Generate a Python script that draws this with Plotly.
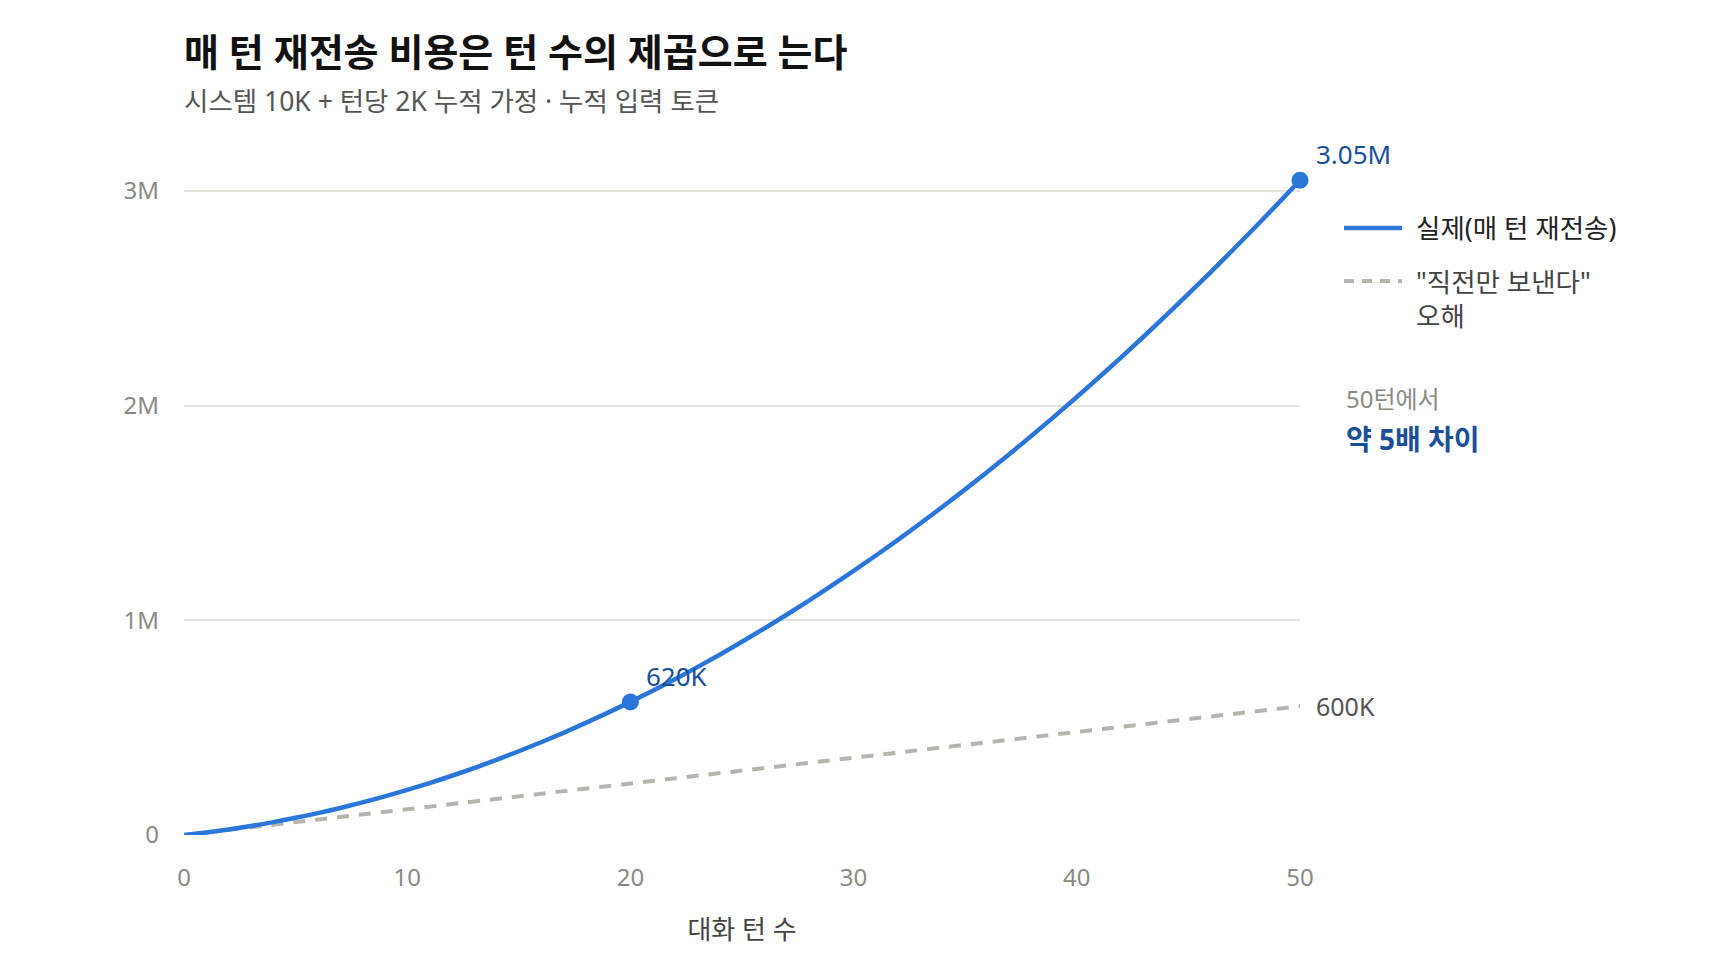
import plotly.graph_objects as go

# 대화 턴 수
turns = list(range(0, 51))

# 실제: 매 턴 전체 대화를 재전송 (누적 입력 토큰, K)
actual_k = [0, 12, 26, 42, 60, 80, 102, 126, 152, 180,
            210, 242, 276, 312, 350, 390, 432, 476, 522, 570,
            620, 672, 726, 782, 840, 900, 962, 1026, 1092, 1160,
            1230, 1302, 1376, 1452, 1530, 1610, 1692, 1776, 1862, 1950,
            2040, 2132, 2226, 2322, 2420, 2520, 2622, 2726, 2832, 2940,
            3050]

# 오해: 직전 메시지만 보낸다고 가정
naive_turns = [0, 10, 20, 30, 40, 50]
naive_k = [0, 120, 240, 360, 480, 600]

# 강조 포인트
mark_turns = [20, 50]
mark_k = [620, 3050]
mark_labels = ["620K", "3.05M"]

y_ticks = [0, 1000000, 2000000, 3000000]
y_tick_text = ["0", "1M", "2M", "3M"]
x_ticks = [0, 10, 20, 30, 40, 50]

FONT = "Noto Sans, Noto Sans CJK KR"
BLUE = "#2B77D9"
DARK_BLUE = "#1B4F9C"
GREY_LINE = "#B5B5AE"
TICK_GREY = "#8A8A85"

# plot area in pixels (page has an 8px body margin)
L, R, T, B = 176, 428, 140, 133
PW = 1720 - L - R
PH = 960 - T - B


def px(x):
    return (x - L) / PW


def py(y):
    return 1 - (y - T) / PH


fig = go.Figure()

fig.add_trace(go.Scatter(
    x=naive_turns, y=[v * 1000 for v in naive_k],
    mode="lines", line=dict(color=GREY_LINE, width=4, dash="12px,10px"),
    hoverinfo="skip", showlegend=False))

fig.add_trace(go.Scatter(
    x=turns, y=[v * 1000 for v in actual_k],
    mode="lines", line=dict(color=BLUE, width=4.5, shape="spline"),
    hoverinfo="skip", showlegend=False))

fig.add_trace(go.Scatter(
    x=mark_turns, y=[v * 1000 for v in mark_k],
    mode="markers", marker=dict(color=BLUE, size=17),
    cliponaxis=False, hoverinfo="skip", showlegend=False))

annotations = []
for t, v, lab in zip(mark_turns, mark_k, mark_labels):
    annotations.append(dict(
        x=t, y=v * 1000, text=lab, showarrow=False, xanchor="left", yanchor="middle",
        xshift=14, yshift=26, font=dict(family=FONT, size=26, color=DARK_BLUE)))

annotations.append(dict(
    x=naive_turns[-1], y=naive_k[-1] * 1000, text="600K", showarrow=False,
    xanchor="left", yanchor="middle", xshift=14,
    font=dict(family=FONT, size=25, color="#555555")))

# 제목 / 부제
annotations.append(dict(
    xref="paper", yref="paper", x=0, y=1, yanchor="middle", xanchor="left",
    xshift=-2, yshift=T - 8 - 35, text="<b>매 턴 재전송 비용은 턴 수의 제곱으로 는다</b>",
    showarrow=False, font=dict(family=FONT, size=38, color="#111111")))
annotations.append(dict(
    xref="paper", yref="paper", x=0, y=1, yanchor="middle", xanchor="left",
    xshift=-2, yshift=T - 8 - 85, text="시스템 10K + 턴당 2K 누적 가정 · 누적 입력 토큰",
    showarrow=False, font=dict(family=FONT, size=26.5, color="#555555")))

# 범례 (수동)
leg_x0, leg_x1, leg_tx = 1336, 1394, 1406
leg_y1, leg_y2 = 220, 273
shapes = [
    dict(type="line", xref="paper", yref="paper", x0=px(leg_x0), x1=px(leg_x1),
         y0=py(leg_y1), y1=py(leg_y1), line=dict(color=BLUE, width=4.5)),
    dict(type="line", xref="paper", yref="paper", x0=px(leg_x0), x1=px(leg_x1),
         y0=py(leg_y2), y1=py(leg_y2),
         line=dict(color=GREY_LINE, width=4, dash="10px,8px")),
]
annotations.append(dict(
    xref="paper", yref="paper", x=px(leg_tx), y=py(leg_y1),
    xanchor="left", yanchor="middle", text="실제(매 턴 재전송)", showarrow=False,
    font=dict(family=FONT, size=26.5, color="#222222")))
annotations.append(dict(
    xref="paper", yref="paper", x=px(leg_tx), y=py(leg_y2),
    xanchor="left", yanchor="top", yshift=19, align="left",
    text="\"직전만 보낸다\"<br>오해", showarrow=False,
    font=dict(family=FONT, size=26.5, color="#444444")))

annotations.append(dict(
    xref="paper", yref="paper", x=px(leg_x0), y=py(391),
    xanchor="left", yanchor="middle", text="50턴에서", showarrow=False,
    font=dict(family=FONT, size=24, color=TICK_GREY)))
annotations.append(dict(
    xref="paper", yref="paper", x=px(leg_x0), y=py(431),
    xanchor="left", yanchor="middle", text="<b>약 5배 차이</b>", showarrow=False,
    font=dict(family=FONT, size=28, color=DARK_BLUE)))

fig.update_layout(
    width=1720, height=960,
    margin=dict(l=L, r=R, t=T, b=B),
    paper_bgcolor="white", plot_bgcolor="white",
    font=dict(family=FONT, size=24, color=TICK_GREY),
    showlegend=False,
    annotations=annotations,
    shapes=shapes,
    xaxis=dict(range=[0, 50], tickvals=x_ticks, showgrid=False, zeroline=False,
               showline=False, ticks="", ticklabelstandoff=26,
               tickfont=dict(family=FONT, size=24, color=TICK_GREY),
               title=dict(text="대화 턴 수", standoff=28,
                          font=dict(family=FONT, size=26, color="#444444"))),
    yaxis=dict(range=[0, 3.2e6], tickvals=y_ticks, ticktext=y_tick_text,
               showgrid=True, gridcolor="#E4E4DF", gridwidth=1.5,
               zeroline=False, showline=False, ticks="", ticklabelstandoff=24,
               tickfont=dict(family=FONT, size=24, color=TICK_GREY)),
)

fig.write_html("out.html")
